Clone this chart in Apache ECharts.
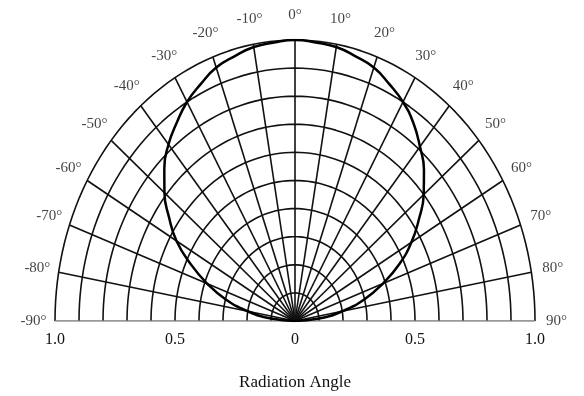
<!DOCTYPE html>
<html>
<head>
<meta charset="utf-8">
<script src="https://cdn.jsdelivr.net/npm/echarts@6/dist/echarts.min.js"></script>
<style>
    html, body {margin: 0; padding: 0; background: #fff;}
    #chart {width: 584px; height: 396px;}
</style>
</head>
<body>
<div id="chart"></div>
<script>
// 角度刻度与网格
var angleTicks = [-90, -80, -70, -60, -50, -40, -30, -20, -10, 0, 10, 20, 30, 40, 50, 60, 70, 80, 90];
var ringRadii = [0.1, 0.2, 0.3, 0.4, 0.5, 0.6, 0.7, 0.8, 0.9, 1.0];
var xTickLabels = ['1.0', '0.5', '0', '0.5', '1.0'];

// 辐射强度（相对值）
var patternAngles = [-90, -85, -80, -75, -70, -65, -60, -55, -50, -45, -40, -35, -30, -25, -20, -15, -10, -5,
    0, 5, 10, 15, 20, 25, 30, 35, 40, 45, 50, 55, 60, 65, 70, 75, 80, 85, 90];
var patternValues = [0, 0.10, 0.20, 0.30, 0.39, 0.48, 0.57, 0.64, 0.71, 0.77, 0.82, 0.86, 0.90, 0.93, 0.96, 0.975, 0.99, 0.995,
    1.0, 0.995, 0.99, 0.975, 0.96, 0.93, 0.90, 0.86, 0.81, 0.76, 0.70, 0.63, 0.56, 0.48, 0.39, 0.30, 0.20, 0.10, 0];

var toXY = function (deg, r) {
    var a = deg * Math.PI / 180;
    return [r * Math.sin(a), r * Math.cos(a)];
};

var lineColor = '#111';
var textColor = '#111';
var series = [];

// 同心（椭圆）网格
ringRadii.forEach(function (r) {
    var pts = [];
    for (var d = -90; d <= 90; d += 2) {
        pts.push(toXY(d, r));
    }
    series.push({
        type: 'line', data: pts, showSymbol: false, silent: true,
        lineStyle: {color: lineColor, width: 1.6}
    });
});

// 径向线
angleTicks.forEach(function (d) {
    series.push({
        type: 'line', data: [[0, 0], toXY(d, 1)], showSymbol: false, silent: true,
        lineStyle: {color: Math.abs(d) === 90 ? '#777' : lineColor, width: 1.6}
    });
});

// 辐射曲线
series.push({
    type: 'line', smooth: true, showSymbol: false,
    data: patternAngles.map(function (d, i) { return toXY(d, patternValues[i]); }),
    lineStyle: {color: '#000', width: 2.5}
});

// 角度标签
var labelData = angleTicks.map(function (d) {
    var item = {value: toXY(d, 1.09), name: d + '°'};
    if (d >= 70) {
        item.label = {offset: [d === 90 ? 6 : 9, d === 90 ? -4 : 0]};
    } else if (d > 0) {
        item.label = {offset: [8, 0]};
    } else if (d === -90) {
        item.label = {offset: [-5, -4]};
    } else if (d < 0) {
        item.label = {offset: [-3, -1]};
    }
    return item;
});
series.push({
    type: 'scatter', symbolSize: 0, silent: true, clip: false,
    data: labelData,
    labelLayout: {hideOverlap: false},
    label: {
        show: true, position: 'inside', formatter: '{b}',
        fontFamily: 'Liberation Serif', fontSize: 15, color: textColor
    }
});

var chart = echarts.init(document.getElementById('chart'));
chart.setOption({
    animation: false,
    grid: {left: 55, right: 49, top: 40, bottom: 72},
    xAxis: {
        type: 'value', min: -1, max: 1, interval: 0.5,
        axisLine: {show: false}, axisTick: {show: false}, splitLine: {show: false},
        axisLabel: {
            margin: 11, fontFamily: 'Liberation Serif', fontSize: 16, color: textColor,
            formatter: function (v) { return xTickLabels[Math.round((v + 1) / 0.5)]; }
        },
        name: 'Radiation Angle', nameLocation: 'middle', nameGap: 53,
        nameTextStyle: {fontFamily: 'Liberation Serif', fontSize: 17, color: textColor}
    },
    yAxis: {type: 'value', min: 0, max: 1, show: false},
    series: series
});
</script>
</body>
</html>
